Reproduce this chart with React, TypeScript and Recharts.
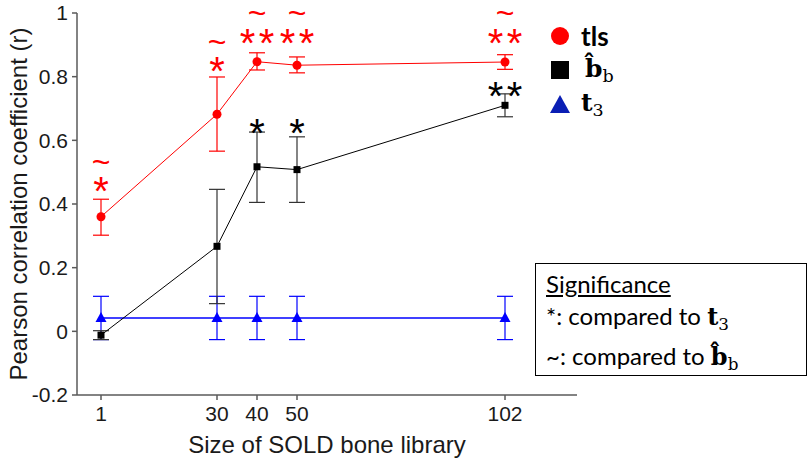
import React from "react";
import {
  ComposedChart,
  Line,
  Scatter,
  XAxis,
  YAxis,
  ErrorBar,
  Label,
} from "recharts";

// library sizes (x)
const sizes = [1, 30, 40, 50, 102];

// tls (red)
const tlsMean = [0.36, 0.682, 0.847, 0.836, 0.846];
const tlsLow = [0.302, 0.566, 0.821, 0.812, 0.823];
const tlsHigh = [0.415, 0.799, 0.875, 0.862, 0.869];

// b-hat_b (black)
const bhatMean = [-0.012, 0.267, 0.517, 0.508, 0.71];
const bhatLow = [-0.026, 0.087, 0.405, 0.405, 0.674];
const bhatHigh = [0.002, 0.446, 0.626, 0.611, 0.746];

// t3 (blue)
const t3Mean = [0.042, 0.042, 0.042, 0.042, 0.042];
const t3Low = [-0.026, -0.026, -0.026, -0.026, -0.026];
const t3High = [0.11, 0.11, 0.11, 0.11, 0.11];

// significance marks
const redStars = [1, 1, 2, 2, 2];
const redStarY = [0.467, 0.845, 0.933, 0.933, 0.933];
const redTildeY = [0.53, 0.907, 0.999, 0.999, 0.999];
const blackStarX = [40, 50, 102];
const blackStars = [1, 1, 2];
const blackStarY = [0.65, 0.65, 0.766];

const yTicks = [-0.2, 0, 0.2, 0.4, 0.6, 0.8, 1];

const RED = "#ff0000";
const BLUE = "#0000ff";
const AXIS = "#5a5a5a";
const SANS = "'Liberation Sans', Arial, sans-serif";
const LEGEND_FONT = "Lato, 'Open Sans', sans-serif";
const SERIF = "'DejaVu Serif', 'Liberation Serif', serif";

const rows = sizes.map((x, i) => ({
  x,
  tls: tlsMean[i],
  tlsErr: [tlsMean[i] - tlsLow[i], tlsHigh[i] - tlsMean[i]],
  bhat: bhatMean[i],
  bhatErr: [bhatMean[i] - bhatLow[i], bhatHigh[i] - bhatMean[i]],
  t3: t3Mean[i],
  t3Err: [t3Mean[i] - t3Low[i], t3High[i] - t3Mean[i]],
}));

type Mark = { x: number; y: number; count: number; color: string; kind: "star" | "tilde" };

const marks: Mark[] = [
  ...sizes.map((x, i) => ({ x, y: redStarY[i], count: redStars[i], color: RED, kind: "star" as const })),
  ...sizes.map((x, i) => ({ x, y: redTildeY[i], count: 1, color: RED, kind: "tilde" as const })),
  ...blackStarX.map((x, i) => ({ x, y: blackStarY[i], count: blackStars[i], color: "#000", kind: "star" as const })),
];

const MarkShape = (props: any) => {
  const { cx, cy, payload } = props;
  if (payload.kind === "tilde") {
    const fs = 32;
    return (
      <text x={cx} y={cy + 0.33 * fs} textAnchor="middle" fill={payload.color} fontSize={fs} fontFamily={SANS}>
        ~
      </text>
    );
  }
  const fs = 40;
  const offs = payload.count === 2 ? [-9.5, 9.5] : [0];
  return (
    <g>
      {offs.map((d) => (
        <text
          key={d}
          x={cx + d}
          y={cy + 0.57 * fs}
          textAnchor="middle"
          fill={payload.color}
          fontSize={fs}
          fontFamily={SANS}
        >
          *
        </text>
      ))}
    </g>
  );
};

const SquareDot = (props: any) => {
  const { cx, cy, index } = props;
  return <rect key={`sq-${index}`} x={cx - 3.5} y={cy - 3.5} width={7} height={7} fill="#000" />;
};

const TriDot = (props: any) => {
  const { cx, cy, index } = props;
  return (
    <polygon
      key={`tr-${index}`}
      points={`${cx},${cy - 6} ${cx - 5.5},${cy + 4} ${cx + 5.5},${cy + 4}`}
      fill={BLUE}
    />
  );
};

const BHat = ({ size }: { size: number }) => (
  <span style={{ fontFamily: SERIF, fontWeight: 700, fontSize: size }}>
    b&#770;
    <sub style={{ fontWeight: 400, fontSize: size * 0.7, verticalAlign: "-0.3em" }}>b</sub>
  </span>
);

const T3 = ({ size }: { size: number }) => (
  <span style={{ fontFamily: SERIF, fontWeight: 700, fontSize: size }}>
    t<sub style={{ fontWeight: 400, fontSize: size * 0.7, verticalAlign: "-0.3em" }}>3</sub>
  </span>
);

const LegendBox = () => {
  const row: React.CSSProperties = { display: "flex", alignItems: "center", height: 34 };
  const mark: React.CSSProperties = { width: 22, display: "flex", justifyContent: "center", marginRight: 10 };
  return (
    <div style={{ position: "absolute", left: 549, top: 19, fontFamily: LEGEND_FONT, color: "#000" }}>
      <div style={row}>
        <div style={mark}>
          <svg width={20} height={20}><circle cx={10} cy={10} r={9} fill={RED} /></svg>
        </div>
        <span style={{ fontWeight: 700, fontSize: 26 }}>tls</span>
      </div>
      <div style={row}>
        <div style={mark}>
          <svg width={20} height={20}><rect x={1} y={1} width={18} height={18} fill="#000" /></svg>
        </div>
        <span style={{ marginLeft: 4 }}><BHat size={25} /></span>
      </div>
      <div style={row}>
        <div style={mark}>
          <svg width={22} height={20}><polygon points="11,1 1,19 21,19" fill="#0a1eb4" /></svg>
        </div>
        <T3 size={25} />
      </div>
    </div>
  );
};

export default function App() {
  return (
    <div style={{ position: "absolute", left: 0, top: 0, width: 810, height: 462, background: "#fff" }}>
      <ComposedChart
        width={810}
        height={462}
        data={rows}
        margin={{ top: 13, right: 233, bottom: 7, left: 0 }}
      >
        <XAxis
          type="number"
          dataKey="x"
          domain={[-5, 120]}
          ticks={sizes}
          height={60}
          stroke={AXIS}
          strokeWidth={1.5}
          tickSize={5}
          tick={{ fill: "#1a1a1a", fontSize: 21, fontFamily: SANS }}
          tickMargin={6}
        >
          <Label
            value="Size of SOLD bone library"
            position="insideBottom"
            offset={2}
            style={{ fill: "#1a1a1a", fontSize: 24, fontFamily: SANS }}
          />
        </XAxis>
        <YAxis
          type="number"
          domain={[-0.2, 1]}
          ticks={yTicks}
          width={77}
          stroke={AXIS}
          strokeWidth={1.5}
          tickSize={5}
          tickMargin={4}
          tickFormatter={(v: number) => String(Math.round(v * 10) / 10)}
          tick={{ fill: "#1a1a1a", fontSize: 21, fontFamily: SANS }}
        >
          <Label
            value="Pearson correlation coefficient (r)"
            angle={-90}
            position="center"
            dx={-20}
            style={{ fill: "#1a1a1a", fontSize: 24, fontFamily: SANS, textAnchor: "middle" }}
          />
        </YAxis>
        <Line
          dataKey="t3"
          stroke={BLUE}
          strokeWidth={1.5}
          dot={TriDot}
          activeDot={false}
          isAnimationActive={false}
        >
          <ErrorBar dataKey="t3Err" width={8} stroke={BLUE} strokeWidth={1.2} direction="y" />
        </Line>
        <Line
          dataKey="bhat"
          stroke="#000"
          strokeWidth={1}
          dot={SquareDot}
          activeDot={false}
          isAnimationActive={false}
        >
          <ErrorBar dataKey="bhatErr" width={8} stroke="#333" strokeWidth={1.2} direction="y" />
        </Line>
        <Line
          dataKey="tls"
          stroke={RED}
          strokeWidth={1}
          dot={{ r: 4.5, fill: RED, stroke: RED, strokeWidth: 0 }}
          activeDot={false}
          isAnimationActive={false}
        >
          <ErrorBar dataKey="tlsErr" width={8} stroke={RED} strokeWidth={1.2} direction="y" />
        </Line>
        <Scatter data={marks} dataKey="y" shape={MarkShape} isAnimationActive={false} legendType="none" />
      </ComposedChart>
      <LegendBox />
      <div
        style={{
          position: "absolute",
          left: 535,
          top: 263,
          width: 272,
          height: 113,
          border: "1.5px solid #000",
          fontFamily: LEGEND_FONT,
          fontSize: 24,
          color: "#000",
          paddingLeft: 10,
          boxSizing: "border-box",
          lineHeight: "32px",
          paddingTop: 4,
        }}
      >
        <div style={{ textDecoration: "underline" }}>Significance</div>
        <div>
          *: compared to <T3 size={24} />
        </div>
        <div>
          ~: compared to <BHat size={24} />
        </div>
      </div>
    </div>
  );
}
